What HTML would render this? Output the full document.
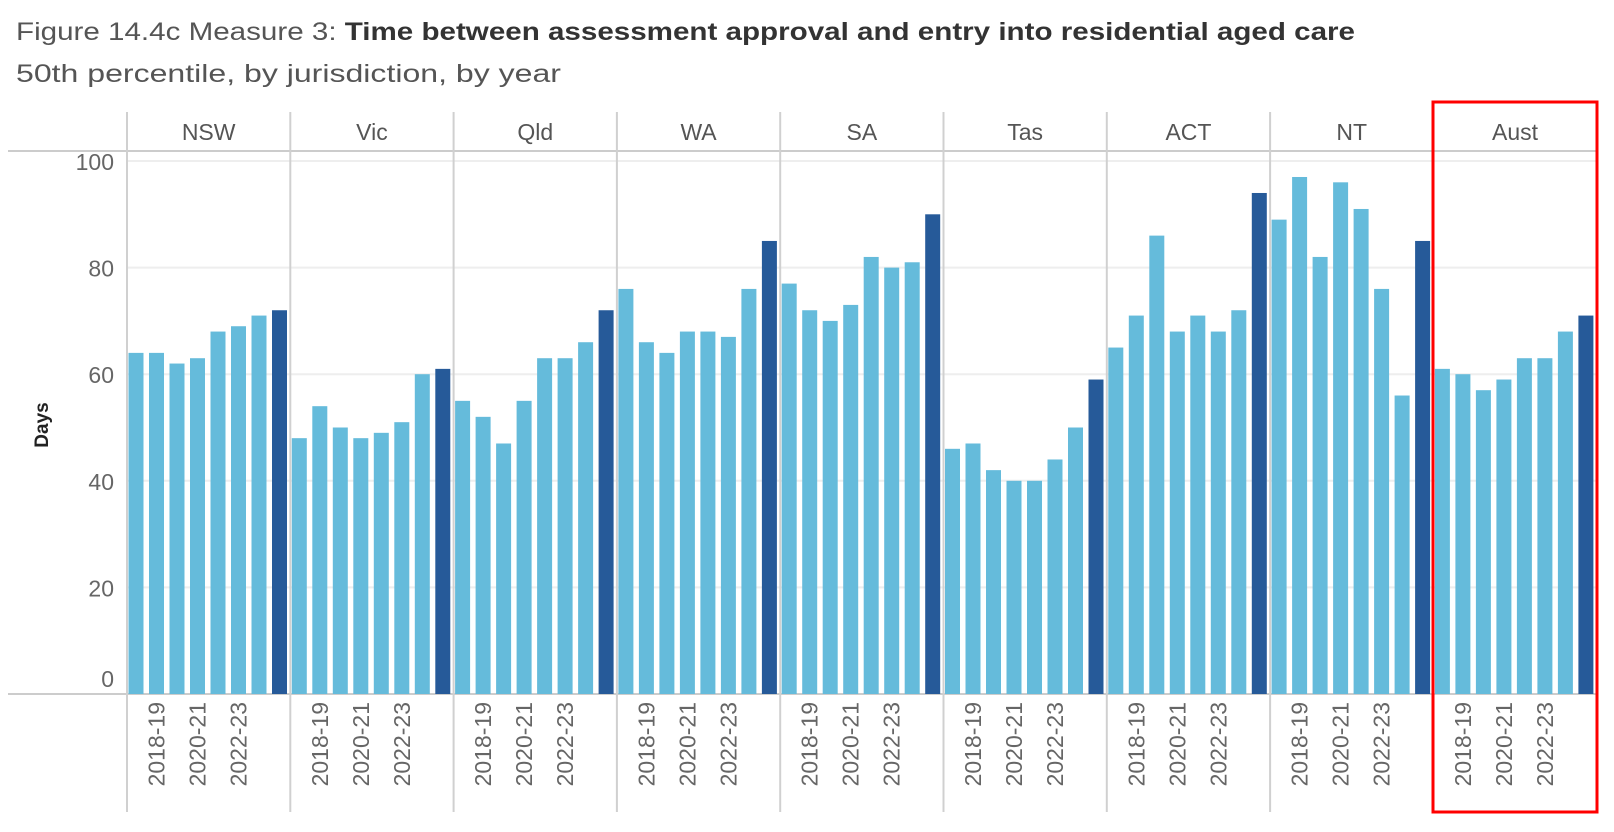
<!DOCTYPE html>
<html><head><meta charset="utf-8"><style>
html,body{margin:0;padding:0;background:#fff;}
svg{display:block;font-family:"Liberation Sans",sans-serif;}
</style></head><body>
<svg id="chart" width="1614" height="832" viewBox="0 0 1614 832" xmlns="http://www.w3.org/2000/svg">
<text x="16" y="40" font-size="25" fill="#333" textLength="1339" lengthAdjust="spacingAndGlyphs"><tspan fill="#555">Figure 14.4c Measure 3: </tspan><tspan font-weight="bold">Time between assessment approval and entry into residential aged care</tspan></text>
<text x="16" y="82" font-size="25" fill="#555" textLength="545" lengthAdjust="spacingAndGlyphs">50th percentile, by jurisdiction, by year</text>
<text transform="translate(48,425) rotate(-90)" text-anchor="middle" font-size="19" font-weight="bold" fill="#222">Days</text>
<g id="grid"></g>
<g id="bars"></g>
<g id="labels"></g>
<rect x="1433" y="102" width="164" height="710" fill="none" stroke="#f00" stroke-width="3"/>
</svg>
<script>
const jurisdictions = ["NSW","Vic","Qld","WA","SA","Tas","ACT","NT","Aust"];
const years = ["2017-18","2018-19","2019-20","2020-21","2021-22","2022-23","2023-24","2024-25"];
const valNSW = [64,64,62,63,68,69,71,72];
const valVic = [48,54,50,48,49,51,60,61];
const valQld = [55,52,47,55,63,63,66,72];
const valWA = [76,66,64,68,68,67,76,85];
const valSA = [77,72,70,73,82,80,81,90];
const valTas = [46,47,42,40,40,44,50,59];
const valACT = [65,71,86,68,71,68,72,94];
const valNT = [89,97,82,96,91,76,56,85];
const valAust = [61,60,57,59,63,63,68,71];
const yTicks = [0,20,40,60,80,100];
const yearLabels = ["2018-19","2020-21","2022-23"];

const series = [valNSW,valVic,valQld,valWA,valSA,valTas,valACT,valNT,valAust];
const NS = "http://www.w3.org/2000/svg";
const left = 127, panelW = 163.3, y0 = 694, y100 = 161;
const yScale = v => y0 - (y0 - y100) * v / 100;
const pitch = 20.5, barW = 15;
const grid = document.getElementById('grid');
const barsG = document.getElementById('bars');
const labG = document.getElementById('labels');
function mk(tag, attrs, parent){const e=document.createElementNS(NS,tag);for(const k in attrs)e.setAttribute(k,attrs[k]);parent.appendChild(e);return e;}
const right = left + panelW*jurisdictions.length;
yTicks.forEach(t=>{
  const y = yScale(t);
  if(t>0){
    const l = mk('line',{x1:left,x2:right,y1:y,y2:y,stroke:'#eee','stroke-width':2},grid);
    
    
  }
  const tx = mk('text',{x:114,y:(t===0?y-7:y+9),'text-anchor':'end','font-size':23,fill:'#666'},grid);
  tx.textContent = t;
  
  
});
const hl = mk('line',{x1:8,x2:right,y1:151,y2:151,stroke:'#ccc','stroke-width':2},grid);


const zl = mk('line',{x1:8,x2:right,y1:y0,y2:y0,stroke:'#ccc','stroke-width':2},grid);


jurisdictions.forEach((j,p)=>{
  const px = left + p*panelW;
  const vl = mk('line',{x1:px,x2:px,y1:112,y2:812,stroke:'#d0d0d0','stroke-width':2},grid);
  
  
  const h = mk('text',{x:px+panelW/2,y:140,'text-anchor':'middle','font-size':23,fill:'#555'},labG);
  h.textContent = j;
  
  
  series[p].forEach((v,i)=>{
    const x = px + 1.5 + i*pitch;
    const b = mk('rect',{x:x,y:yScale(v),width:barW,height:y0-yScale(v),fill:i===years.length-1?'#265a99':'#65bbdb'},barsG);
    
    
    if(yearLabels.includes(years[i])){
      const cx = x + barW/2 + 8;
      const t = mk('text',{transform:`translate(${cx},702) rotate(-90)`,'text-anchor':'end','font-size':23,fill:'#666'},labG);
      t.textContent = years[i];
      
      
    }
  });
});
</script>
</body></html>
